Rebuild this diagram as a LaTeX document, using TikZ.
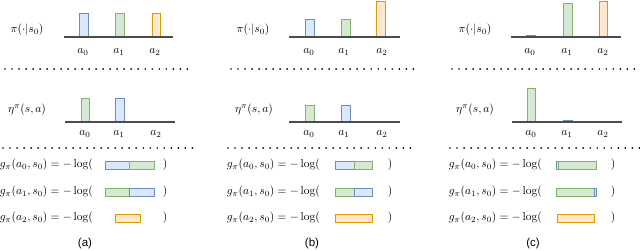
\documentclass[tikz,border=0pt]{standalone}
\usepackage{fontspec}
\newfontfamily\capfont{Liberation Sans}
\definecolor{blueln}{HTML}{6C8EBF}
\definecolor{bluefl}{HTML}{DAE8FC}
\definecolor{greenln}{HTML}{82B366}
\definecolor{greenfl}{HTML}{D5E8D4}
\definecolor{orangeln}{HTML}{D79B00}
\definecolor{orangefl}{HTML}{FFE6CC}
\begin{document}
\begin{tikzpicture}[x=0.87pt,y=-0.87pt,lbl/.style={inner sep=0pt},sublbl/.style={inner sep=0pt,font=\capfont},axis/.style={draw=black!70,line width=1.3pt},dots/.style={line width=1.7pt,line cap=round,dash pattern=on 0pt off 6.1pt},bb/.style={draw=blueln,fill=bluefl,line width=0.8pt},gb/.style={draw=greenln,fill=greenfl,line width=0.8pt},ob/.style={draw=orangeln,fill=orangefl,line width=0.8pt}]
\useasboundingbox (0,0) rectangle (640,251);
% (a)
\node[lbl] (pia) at (27,30) {$\pi(\cdot|s_0)$};
\draw[bb] (79,37) rectangle (88,13);
\draw[gb] (115,37) rectangle (124,13);
\draw[ob] (152,37) rectangle (160,13);
\draw[axis] (64,37) -- (173,37);
\foreach \x/\i in {83/0,119/1,155/2} \node[lbl] (pa\i) at (\x,52) {$a_\i$};
\draw[dots] (5,69) -- (193,69);
\node[lbl] (etaa) at (27,110) {$\eta^\pi(s,a)$};
\draw[gb] (81,122) rectangle (89,98);
\draw[bb] (115,122) rectangle (124,98);
\draw[axis] (65,122) -- (175,122);
\foreach \x/\i in {85/0,119/1,156/2} \node[lbl] (ea\i) at (\x,134) {$a_\i$};
\draw[dots] (3,148) -- (195,148);
\foreach \r/\y in {0/165,1/192,2/218} {
  \node[lbl,anchor=east] (ga\r) at (93,\y) {$g_\pi(a_\r,s_0)=-\log($};
  \node[lbl] (ca\r) at (165,\y) {$)$};
}
\draw[bb] (105,161) rectangle (129,169);
\draw[gb] (129,161) rectangle (154,169);
\draw[gb] (105,188) rectangle (129,196);
\draw[bb] (129,188) rectangle (154,196);
\draw[ob] (115,214) rectangle (140,222);
\node[sublbl] (capa) at (85,244) {(a)};
% (b)
\node[lbl] (pib) at (253,30) {$\pi(\cdot|s_0)$};
\draw[bb] (305,37) rectangle (314,19);
\draw[gb] (341,37) rectangle (350,19);
\draw[ob] (376,37) rectangle (385,1);
\draw[axis] (289,37) -- (400,37);
\foreach \x/\i in {309/0,344/1,382/2} \node[lbl] (pb\i) at (\x,52) {$a_\i$};
\draw[dots] (231,69) -- (418,69);
\node[lbl] (etab) at (254,110) {$\eta^\pi(s,a)$};
\draw[gb] (305,122) rectangle (314,105);
\draw[bb] (341,122) rectangle (350,105);
\draw[axis] (289,122) -- (400,122);
\foreach \x/\i in {309/0,344/1,382/2} \node[lbl] (eb\i) at (\x,134) {$a_\i$};
\draw[dots] (228,148) -- (417,148);
\foreach \r/\y in {0/165,1/192,2/218} {
  \node[lbl,anchor=east] (gb\r) at (320,\y) {$g_\pi(a_\r,s_0)=-\log($};
  \node[lbl] (cb\r) at (390,\y) {$)$};
}
\draw[bb] (335,161) rectangle (354,169);
\draw[gb] (354,161) rectangle (372,169);
\draw[gb] (335,188) rectangle (354,196);
\draw[bb] (354,188) rectangle (372,196);
\draw[ob] (335,214) rectangle (372,222);
\node[sublbl] (capb) at (312,244) {(b)};
% (c)
\node[lbl] (pic) at (475,30) {$\pi(\cdot|s_0)$};
\draw[bb] (526,37) rectangle (535,35.5);
\draw[gb] (563,37) rectangle (572,3);
\draw[ob] (599,37) rectangle (607,1);
\draw[axis] (511,37) -- (621,37);
\foreach \x/\i in {530/0,567/1,603/2} \node[lbl] (pc\i) at (\x,52) {$a_\i$};
\draw[dots] (452,69) -- (640,69);
\node[lbl] (etac) at (475,110) {$\eta^\pi(s,a)$};
\draw[gb] (527,122) rectangle (535,88);
\draw[bb] (563,122) rectangle (572,120.5);
\draw[axis] (512,122) -- (622,122);
\foreach \x/\i in {531/0,567/1,603/2} \node[lbl] (ec\i) at (\x,134) {$a_\i$};
\draw[dots] (450,148) -- (640,148);
\foreach \r/\y in {0/165,1/192,2/218} {
  \node[lbl,anchor=east] (gc\r) at (542,\y) {$g_\pi(a_\r,s_0)=-\log($};
  \node[lbl] (cc\r) at (613,\y) {$)$};
}
\draw[bb] (556.5,161) rectangle (558,169);
\draw[gb] (558,161) rectangle (596,169);
\draw[gb] (556,188) rectangle (594.5,196);
\draw[bb] (594.5,188) rectangle (596,196);
\draw[ob] (557,214) rectangle (594,222);
\node[sublbl] (capc) at (533,244) {(c)};
\end{tikzpicture}
\end{document}
